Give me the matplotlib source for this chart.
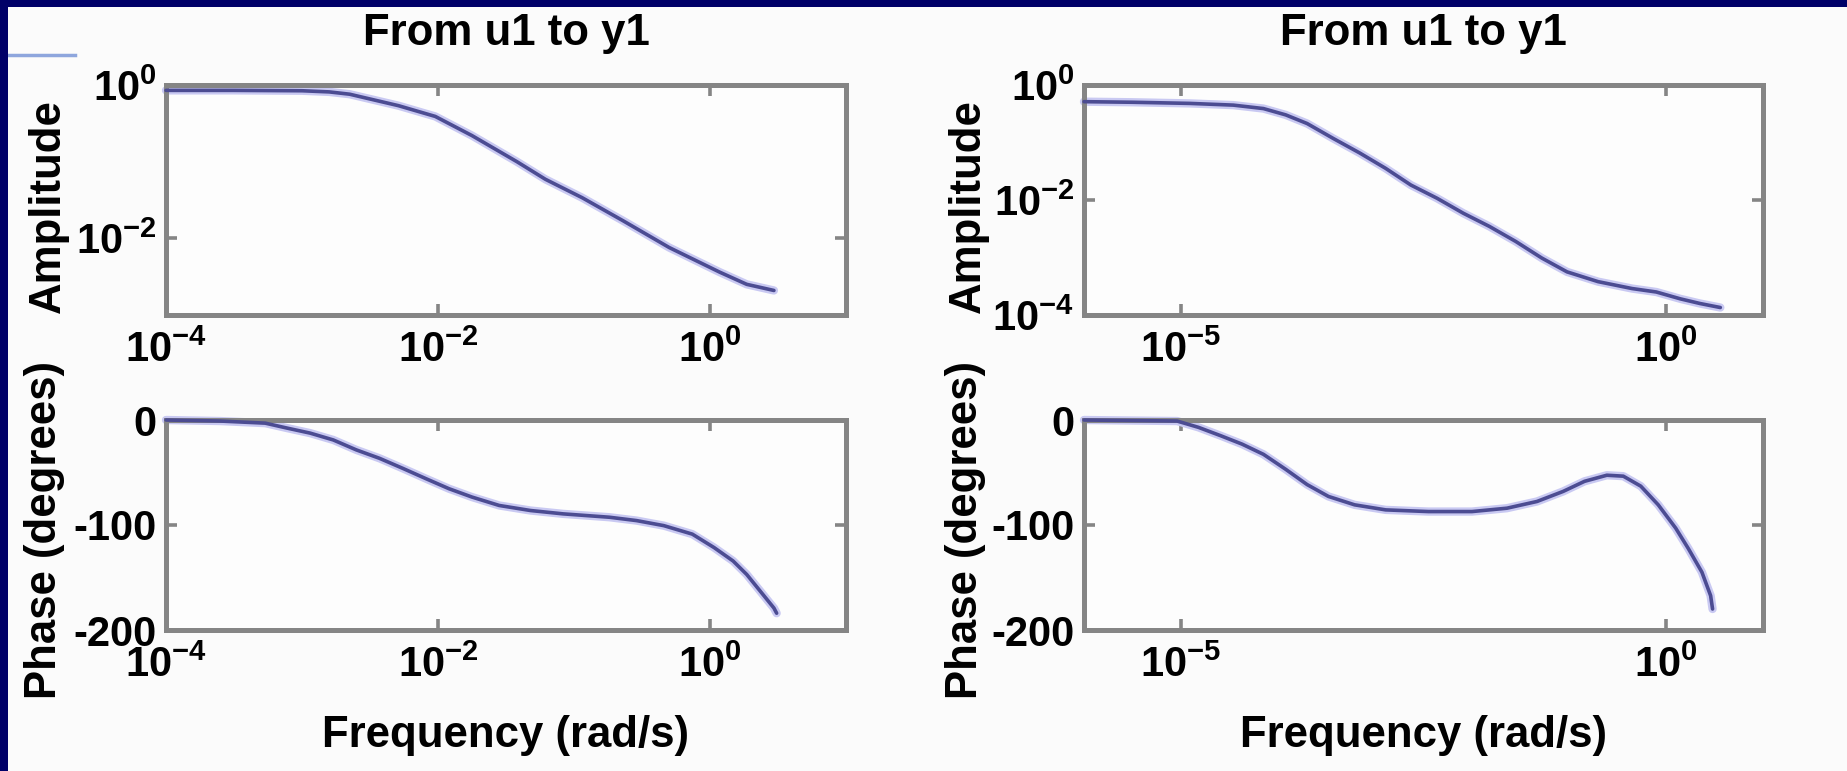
import numpy as np
import matplotlib
matplotlib.use("Agg")
import matplotlib.pyplot as plt
from matplotlib.lines import Line2D
from matplotlib.patches import Rectangle

# ---- Bode data (log10 of frequency in rad/s) --------------------------------
# Left system
left_amp_logw = [-4.00, -3.50, -3.00, -2.80, -2.65, -2.53, -2.29, -2.02, -1.75,
                 -1.42, -1.21, -0.94, -0.64, -0.30, 0.07, 0.27, 0.47]
left_amp_logmag = [-0.07, -0.07, -0.075, -0.09, -0.12, -0.17, -0.27, -0.41, -0.66,
                   -1.00, -1.23, -1.47, -1.77, -2.12, -2.44, -2.60, -2.68]

left_phase_logw = [-4.00, -3.60, -3.27, -3.11, -2.94, -2.77, -2.60, -2.43, -2.26,
                   -2.09, -1.92, -1.75, -1.55, -1.32, -1.08, -0.74, -0.54, -0.34,
                   -0.13, 0.03, 0.17, 0.27, 0.37, 0.47, 0.49]
left_phase_deg = [0, -1, -3, -7.7, -12.5, -19, -28.5, -36.5, -46,
                  -55.8, -65.4, -73.4, -81.4, -86.2, -89.4, -92.6, -95.8, -100.6,
                  -108.7, -121.5, -134.3, -147.1, -163.1, -179.1, -184]

# Right system
right_amp_logw = [-6.00, -5.50, -4.91, -4.46, -4.15, -3.92, -3.70, -3.43, -3.16,
                  -2.89, -2.63, -2.36, -2.09, -1.82, -1.55, -1.28, -1.02, -0.70,
                  -0.35, -0.10, 0.15, 0.35, 0.56]
right_amp_logmag = [-0.29, -0.30, -0.32, -0.35, -0.41, -0.52, -0.67, -0.93, -1.18,
                    -1.45, -1.74, -1.97, -2.23, -2.46, -2.72, -3.01, -3.25, -3.42,
                    -3.54, -3.60, -3.72, -3.80, -3.87]

right_phase_logw = [-6.00, -5.04, -4.82, -4.59, -4.37, -4.15, -3.92, -3.70, -3.48,
                    -3.21, -2.89, -2.45, -2.00, -1.64, -1.33, -1.06, -0.84, -0.61,
                    -0.44, -0.26, -0.08, 0.10, 0.23, 0.37, 0.46, 0.48]
right_phase_deg = [0, -1, -7, -15, -23, -32.7, -47, -61.5, -72.8,
                   -80.8, -85.6, -87.2, -87.2, -84, -77.6, -68, -58.4, -52.6,
                   -53.5, -63, -80.8, -103, -122.4, -144.9, -167.3, -180]

# ---- Axis limits and tick exponents -----------------------------------------
left_xlim_exp = (-4, 1)
right_xlim_exp = (-6, 1)
left_xtick_exp = [-4, -2, 0]
right_xtick_exp = [-5, 0]
left_amp_ylim_exp = (-3, 0)
right_amp_ylim_exp = (-4, 0)
left_amp_ytick_exp = [-2, 0]
right_amp_ytick_exp = [-4, -2, 0]
phase_ylim = (-200, 0)
phase_ticks = [-200, -100, 0]

title_text = "From u1 to y1"
amp_label = "Amplitude"
phase_label = "Phase (degrees)"
freq_label = "Frequency (rad/s)"

# ---- Styling -----------------------------------------------------------------
plt.rcParams.update({
    "font.family": ["Liberation Sans", "DejaVu Sans"],
    "font.weight": "bold",
    "mathtext.fontset": "custom",
    "mathtext.rm": "Liberation Sans:bold",
    "mathtext.bf": "Liberation Sans:bold",
    "mathtext.it": "Liberation Sans:bold",
    "mathtext.default": "bf",
})

W, H = 1847, 771
BG = "#fbfbfb"
NAVY = "#000068"
FRAME = "#858585"
LINE = "#4c4c92"
HALO = "#c9c9f2"
TXT = 31.5
TICK_TXT = 30

fig = plt.figure(figsize=(W / 100, H / 100), dpi=100, facecolor=BG)


def px_axes(left, right, top, bottom):
    return fig.add_axes([left / W, 1 - bottom / H, (right - left) / W, (bottom - top) / H])


def style(ax):
    ax.set_facecolor("#fdfdfd")
    for sp in ax.spines.values():
        sp.set_color(FRAME)
        sp.set_linewidth(3.6)
    ax.tick_params(which="major", direction="in", top=True, right=True,
                   length=8, width=2.6, color=FRAME, labelsize=TICK_TXT,
                   labelcolor="black", pad=7)
    ax.tick_params(axis="x", pad=11)
    ax.minorticks_off()


def curve(ax, logw, vals, log_vals=False):
    w = np.power(10.0, logw)
    y = np.power(10.0, vals) if log_vals else np.asarray(vals)
    ax.plot(w, y, color=HALO, lw=6.0, solid_capstyle="round", zorder=2, clip_on=False)
    ax.plot(w, y, color=LINE, lw=2.6, solid_capstyle="round", zorder=3, clip_on=False)


def pow_labels(exps):
    return [r"$10^{%d}$" % e for e in exps]


panels = [
    # (x extent, amp ylim, amp ticks, xticks, amp data, phase data, centre x)
    ((166, 846), left_xlim_exp, left_amp_ylim_exp, left_amp_ytick_exp, left_xtick_exp,
     (left_amp_logw, left_amp_logmag), (left_phase_logw, left_phase_deg), 48),
    ((1084, 1763), right_xlim_exp, right_amp_ylim_exp, right_amp_ytick_exp, right_xtick_exp,
     (right_amp_logw, right_amp_logmag), (right_phase_logw, right_phase_deg), 968),
]

for (xl, xr), xlim_e, ylim_e, ytk_e, xtk_e, amp, ph, lab_x in panels:
    ax_a = px_axes(xl, xr, 85, 315)
    style(ax_a)
    ax_a.set_xscale("log")
    ax_a.set_yscale("log")
    curve(ax_a, amp[0], amp[1], log_vals=True)
    ax_a.set_xlim(10.0 ** xlim_e[0], 10.0 ** xlim_e[1])
    ax_a.set_ylim(10.0 ** ylim_e[0], 10.0 ** ylim_e[1])
    ax_a.set_xticks([10.0 ** e for e in xtk_e])
    ax_a.set_xticklabels(pow_labels(xtk_e))
    ax_a.set_yticks([10.0 ** e for e in ytk_e])
    ax_a.set_yticklabels(pow_labels(ytk_e))
    ax_a.minorticks_off()

    ax_p = px_axes(xl, xr, 420, 630)
    style(ax_p)
    ax_p.set_xscale("log")
    curve(ax_p, ph[0], ph[1])
    ax_p.set_xlim(10.0 ** xlim_e[0], 10.0 ** xlim_e[1])
    ax_p.set_ylim(*phase_ylim)
    ax_p.set_xticks([10.0 ** e for e in xtk_e])
    ax_p.set_xticklabels(pow_labels(xtk_e))
    ax_p.set_yticks(phase_ticks)
    ax_p.set_yticklabels([str(t) for t in phase_ticks])
    ax_p.minorticks_off()

    cx = (xl + xr) / 2
    fig.text(cx / W, 1 - 33 / H, title_text, ha="center", va="center",
             fontsize=TXT, fontweight="bold")
    fig.text(cx / W, 1 - 735 / H, freq_label, ha="center", va="center",
             fontsize=TXT, fontweight="bold")
    fig.text(lab_x / W, 1 - 206 / H, amp_label, ha="center", va="center",
             rotation=90, fontsize=TXT, fontweight="bold")
    fig.text((lab_x - 3) / W, 1 - 530 / H, phase_label, ha="center", va="center",
             rotation=90, fontsize=TXT, fontweight="bold")

# slide frame: navy bars along the top and left edges, plus the thin accent rule
fig.patches.append(Rectangle((0, 1 - 7 / H), 1, 7 / H, transform=fig.transFigure,
                             facecolor=NAVY, edgecolor="none", zorder=10))
fig.patches.append(Rectangle((0, 0), 8 / W, 1, transform=fig.transFigure,
                             facecolor=NAVY, edgecolor="none", zorder=10))
fig.lines.append(Line2D([8 / W, 75 / W], [1 - 55 / H, 1 - 55 / H], transform=fig.transFigure,
                        color="#8ea6dd", lw=2.5, zorder=9))

fig.savefig("out.png", dpi=100, facecolor=BG)
